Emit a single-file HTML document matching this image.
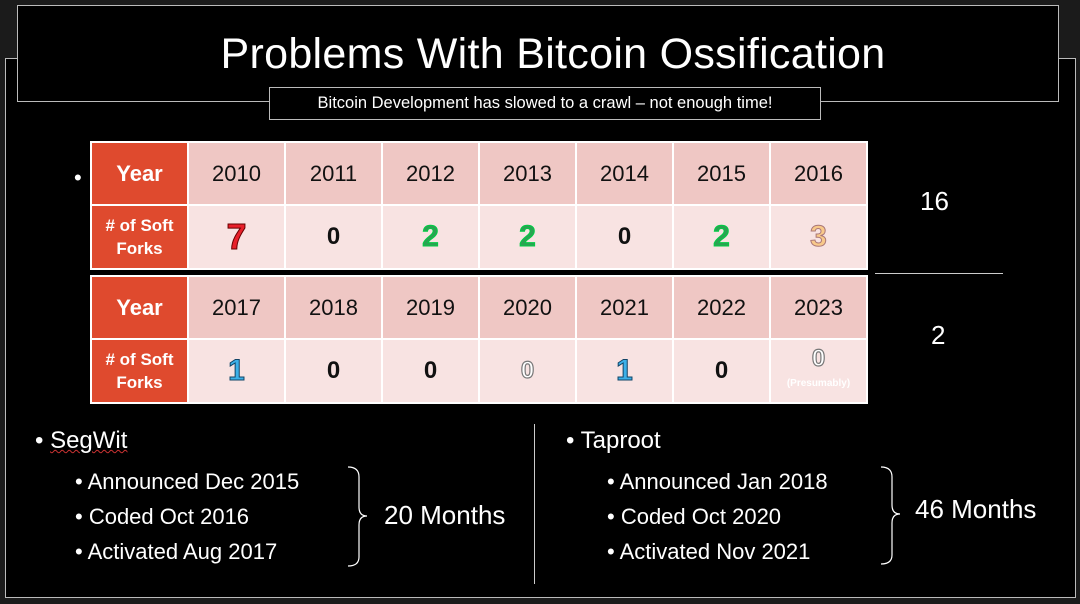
<!DOCTYPE html>
<html><head><meta charset="utf-8"><style>
*{margin:0;padding:0;box-sizing:border-box}
body{width:1080px;height:604px;background:#1b1b1b;position:relative;overflow:hidden;font-family:"Liberation Sans",sans-serif;color:#fff}
.a{position:absolute}
.frame{left:5px;top:58px;width:1071px;height:540px;background:#000;border:1px solid #bbb}
.title{left:17px;top:5px;width:1042px;height:97px;background:#000;border:1px solid #bbb;text-align:center;font-size:43px;line-height:96px;padding-left:30px;letter-spacing:0.3px}
.sub{left:269px;top:87px;width:552px;height:33px;background:#000;border:1px solid #bbb;text-align:center;font-size:16.5px;line-height:31px}
table{position:absolute;left:90px;border-collapse:collapse;table-layout:fixed}
td{border:2px solid #fff;text-align:center;color:#111;width:97px;font-size:22px}
tr.y td{background:#efc7c4;height:63px}
tr.c td{background:#f8e3e2;height:64px}
td.h{background:#df4a2e !important;color:#fff !important;font-weight:bold;font-size:22px}
td.h.s{font-size:17px;line-height:23px}
.n{font-weight:bold;font-size:30px}
.r{color:#e8202a;-webkit-text-stroke:1px #600;font-size:36px}
.g{color:#2aa352;-webkit-text-stroke:1px #0c4}
.o{color:#f8c98a;-webkit-text-stroke:1px #a77}
.b{color:#3db0e8;-webkit-text-stroke:1px #146}
.z{color:#fff;-webkit-text-stroke:1.2px #777;font-size:24px}
.t{font-size:24px}
.sm{font-size:22px}
</style></head><body>
<div class="a frame"></div>
<div class="a title">Problems With Bitcoin Ossification</div>
<div class="a sub">Bitcoin Development has slowed to a crawl – not enough time!</div>
<div class="a" style="left:74px;top:165px;font-size:22px">•</div>
<table style="top:141px;width:775px">
<tr class="y"><td class="h">Year</td><td>2010</td><td>2011</td><td>2012</td><td>2013</td><td>2014</td><td>2015</td><td>2016</td></tr>
<tr class="c"><td class="h s"># of Soft<br>Forks</td><td class="n r">7</td><td class="n" style="font-size:24px">0</td><td class="n g">2</td><td class="n g">2</td><td class="n" style="font-size:24px">0</td><td class="n g">2</td><td class="n o">3</td></tr>
</table>
<div class="a" style="left:90px;top:270px;width:775px;height:5px;background:#000"></div>
<table style="top:275px;width:775px">
<tr class="y"><td class="h">Year</td><td>2017</td><td>2018</td><td>2019</td><td>2020</td><td>2021</td><td>2022</td><td>2023</td></tr>
<tr class="c"><td class="h s"># of Soft<br>Forks</td><td class="n b">1</td><td class="n" style="font-size:24px">0</td><td class="n" style="font-size:24px">0</td><td class="n z">0</td><td class="n b">1</td><td class="n" style="font-size:24px">0</td><td class="n z" style="line-height:20px">0<br><span style="font-size:10px;color:#fff;-webkit-text-stroke:0">(Presumably)</span></td></tr>
</table>
<div class="a" style="left:920px;top:186px;font-size:26px">16</div>
<div class="a" style="left:875px;top:273px;width:128px;height:1px;background:#ccc"></div>
<div class="a" style="left:931px;top:320px;font-size:26px">2</div>
<div class="a t" style="left:35px;top:427px">• <u style="text-decoration:underline wavy #c33 1px">SegWit</u></div>
<div class="a sm" style="left:75px;top:464px;line-height:35px">• Announced Dec 2015<br>• Coded Oct 2016<br>• Activated Aug 2017</div>
<svg class="a" style="left:345px;top:465px" width="30" height="104"><path d="M3 2 Q14 2 14 12 L14 42 Q14 51 22 51 Q14 51 14 60 L14 92 Q14 101 3 101" fill="none" stroke="#fff" stroke-width="1.2"/></svg>
<div class="a" style="left:384px;top:500px;font-size:26px">20 Months</div>
<div class="a" style="left:534px;top:424px;width:1px;height:160px;background:#ccc"></div>
<div class="a t" style="left:566px;top:427px">• Taproot</div>
<div class="a sm" style="left:607px;top:464px;line-height:35px">• Announced Jan 2018<br>• Coded Oct 2020<br>• Activated Nov 2021</div>
<svg class="a" style="left:878px;top:465px" width="30" height="104"><path d="M3 2 Q14 2 14 12 L14 40 Q14 49 22 49 Q14 49 14 58 L14 90 Q14 99 3 99" fill="none" stroke="#fff" stroke-width="1.2"/></svg>
<div class="a" style="left:915px;top:494px;font-size:26px">46 Months</div>
</body></html>
